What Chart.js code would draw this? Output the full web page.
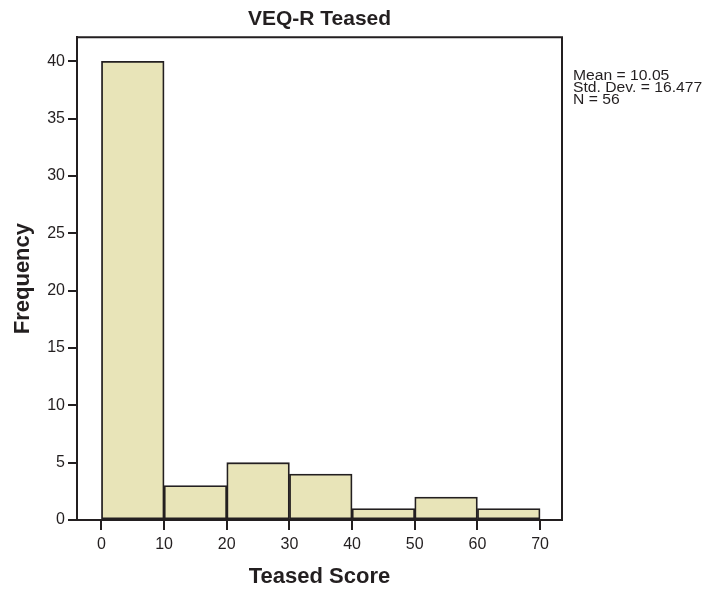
<!DOCTYPE html>
<html>
<head>
<meta charset="utf-8">
<script src="https://cdn.jsdelivr.net/npm/chart.js@4.4.1/dist/chart.umd.min.js"></script>
<style>
  html, body { margin: 0; padding: 0; background: #ffffff; }
  #wrap { width: 712px; height: 591px; }
</style>
</head>
<body>
<div id="wrap"><canvas id="c" width="712" height="591"></canvas></div>
<script>
// ---- data ----
const chartTitle = "VEQ-R Teased";
const xAxisTitle = "Teased Score";
const yAxisTitle = "Frequency";
const binStarts = [0, 10, 20, 30, 40, 50, 60];
const binWidth = 10;
const frequencies = [40, 3, 5, 4, 1, 2, 1];
const xTickValues = [0, 10, 20, 30, 40, 50, 60, 70];
const yTickValues = [0, 5, 10, 15, 20, 25, 30, 35, 40];
const statsLines = ["Mean = 10.05", "Std. Dev. = 16.477", "N = 56"];

const FONT = "'Liberation Sans', Arial, Helvetica, sans-serif";
const INK = "#231f20";

const histData = binStarts.map((s, i) => ({ x: s + binWidth / 2, y: frequencies[i] }));

const framePlugin = {
  id: 'frame',
  afterDraw(chart) {
    const { ctx, chartArea: a } = chart;
    ctx.save();
    ctx.strokeStyle = INK;
    ctx.lineWidth = 2;
    ctx.beginPath();
    ctx.moveTo(a.left, a.top);
    ctx.lineTo(a.right, a.top);
    ctx.lineTo(a.right, a.bottom);
    ctx.stroke();
    // stats text
    ctx.fillStyle = INK;
    ctx.font = "14px " + FONT;
    ctx.textBaseline = "middle";
    ctx.textAlign = "left";
    statsLines.forEach((t, i) => {
      ctx.save();
      ctx.translate(a.right + 11, a.top + 39 + i * 12);
      ctx.scale(1.12, 1);
      ctx.fillText(t, 0, 0);
      ctx.restore();
    });
    ctx.restore();
  }
};

new Chart(document.getElementById('c'), {
  type: 'bar',
  data: {
    datasets: [{
      data: histData,
      backgroundColor: '#e8e4b8',
      borderColor: INK,
      borderWidth: 1.8,
      borderSkipped: false,
      barPercentage: 1.0,
      categoryPercentage: 1.0
    }]
  },
  plugins: [framePlugin],
  options: {
    responsive: false,
    animation: false,
    devicePixelRatio: 1,
    layout: { padding: { left: 0, right: 150, top: 0, bottom: 0 } },
    plugins: {
      legend: { display: false },
      tooltip: { enabled: false },
      title: {
        display: true,
        text: chartTitle,
        fullSize: false,
        color: INK,
        font: { family: FONT, size: 21, weight: 'bold' },
        padding: { top: 7, bottom: 5 }
      }
    },
    scales: {
      x: {
        type: 'linear',
        offset: false,
        min: -3.9,
        max: 73.5,
        afterBuildTicks(scale) { scale.ticks = xTickValues.map(v => ({ value: v })); },
        afterFit(scale) { scale.height = 71; },
        grid: { offset: false, drawOnChartArea: false, drawTicks: true, tickLength: 10, color: INK, lineWidth: 2 },
        border: { display: true, color: INK, width: 2 },
        ticks: { color: INK, font: { family: FONT, size: 16 }, padding: 5, maxRotation: 0 },
        title: { display: true, text: xAxisTitle, color: INK, font: { family: FONT, size: 22, weight: 'bold' }, padding: { top: 0, bottom: 1 } }
      },
      y: {
        type: 'linear',
        min: 0,
        max: 42.1,
        afterBuildTicks(scale) { scale.ticks = yTickValues.map(v => ({ value: v })); },
        afterFit(scale) { scale.width = 77; },
        grid: { drawOnChartArea: false, drawTicks: true, tickLength: 9, color: INK, lineWidth: 2 },
        border: { display: true, color: INK, width: 2 },
        ticks: { color: INK, font: { family: FONT, size: 16 }, padding: 3 },
        title: { display: true, text: yAxisTitle, color: INK, font: { family: FONT, size: 22, weight: 'bold' }, padding: { top: 10, bottom: 0 } }
      }
    }
  }
});
</script>
</body>
</html>
